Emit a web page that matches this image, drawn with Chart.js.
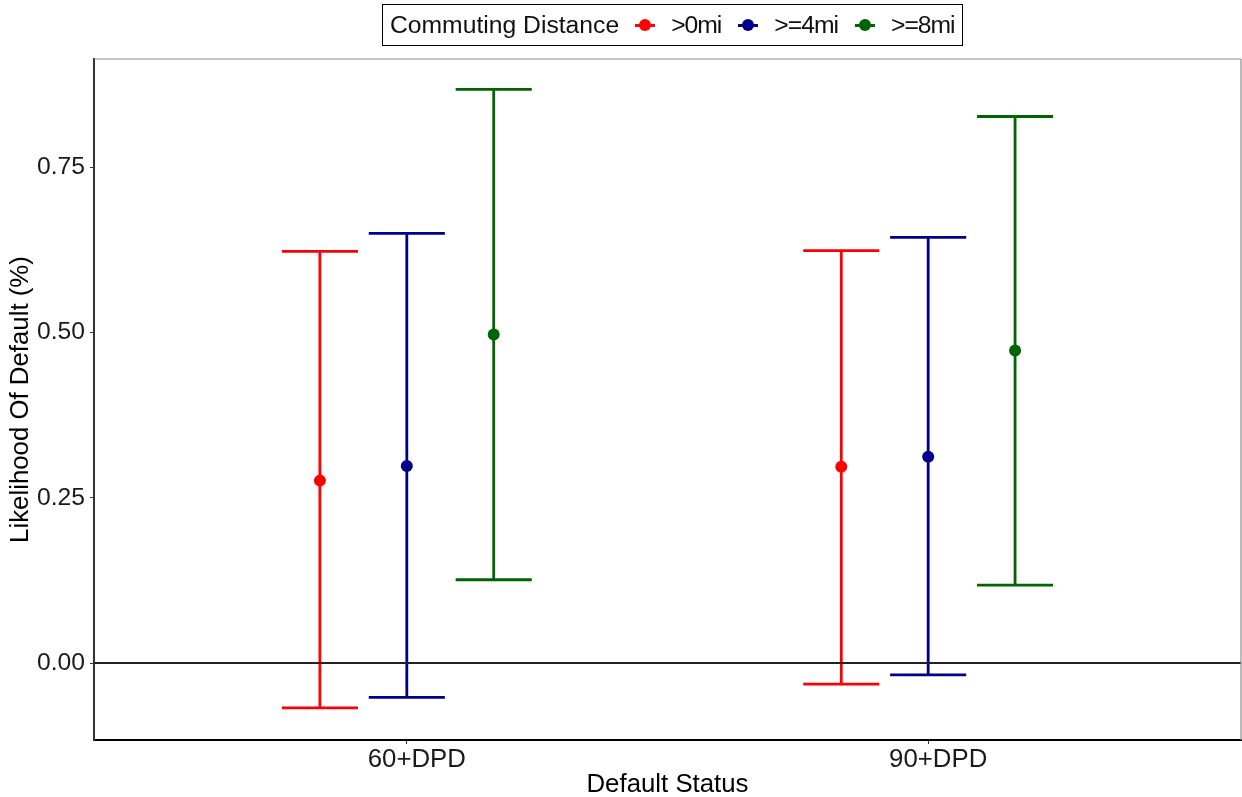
<!DOCTYPE html>
<html lang="en">
<head>
    <meta charset="UTF-8">
    <title>Likelihood Of Default by Commuting Distance</title>
    <style>
        body {
            margin: 0;
            background: #fff;
            font-family: "Liberation Sans", Arial, sans-serif;
        }
        .wrap {
            position: relative;
            width: 1242px;
            height: 797px;
        }
        .legend {
            position: absolute;
            top: 4px;
            left: 382px;
            height: 40px;
            border: 1px solid #000;
            display: flex;
            align-items: center;
            padding: 0 7px 0 7px;
            font-size: 24.7px;
            color: #111;
            white-space: nowrap;
        }
        .legend .ttl { margin-right: 16px; }
        .legend .key {
            position: relative;
            display: inline-block;
            width: 20px;
            height: 12px;
            margin-right: 16px;
        }
        .legend .key::before {
            content: "";
            position: absolute;
            left: 0; right: 0; top: 5px;
            height: 3px;
            background: var(--c);
        }
        .legend .key::after {
            content: "";
            position: absolute;
            left: 4px; top: 0;
            width: 12px; height: 12px;
            border-radius: 50%;
            background: var(--c);
        }
        .legend .lbl { margin-right: 17px; letter-spacing: -1px; }
        .legend .lbl:last-child { margin-right: 0; }
    </style>
</head>
<body>
<div class="wrap">
    <canvas id="chart" width="1242" height="797"></canvas>
    <div class="legend" id="legend"></div>
</div>

<script src="https://cdn.jsdelivr.net/npm/chart.js"></script>
<script>
    // data
    const categories = ['60+DPD', '90+DPD'];
    const seriesNames = ['>0mi', '>=4mi', '>=8mi'];
    const seriesColors = ['#ff0000', '#00008b', '#006400'];

    const est0 = [0.276, 0.297];
    const lo0 = [-0.068, -0.032];
    const hi0 = [0.623, 0.624];

    const est4 = [0.298, 0.312];
    const lo4 = [-0.052, -0.018];
    const hi4 = [0.650, 0.644];

    const est8 = [0.497, 0.473];
    const lo8 = [0.126, 0.118];
    const hi8 = [0.868, 0.827];

    const yTicks = [0, 0.25, 0.5, 0.75];

    const estimates = [est0, est4, est8];
    const lows = [lo0, lo4, lo8];
    const highs = [hi0, hi4, hi8];

    const dodge = 0.5 / 3;   // offset between groups
    const capHalf = 0.073;   // half width of the error bar caps (x units)

    const datasets = seriesNames.map((name, s) => ({
        label: name,
        data: categories.map((c, i) => ({
            x: i + 1 + (s - 1) * dodge,
            y: estimates[s][i],
            lo: lows[s][i],
            hi: highs[s][i]
        })),
        backgroundColor: seriesColors[s],
        borderColor: seriesColors[s],
        pointRadius: 6,
        pointHoverRadius: 6,
        borderWidth: 0
    }));

    // error bars, zero line and the grey panel edges
    const errorBars = {
        id: 'errorBars',
        beforeDatasetsDraw(chart) {
            const ctx = chart.ctx;
            const xs = chart.scales.x, ys = chart.scales.y;
            const a = chart.chartArea;
            ctx.save();
            ctx.lineCap = 'butt';
            chart.data.datasets.forEach(ds => {
                ctx.strokeStyle = ds.borderColor;
                ctx.lineWidth = 2.8;
                ds.data.forEach(d => {
                    const x = xs.getPixelForValue(d.x);
                    const x0 = xs.getPixelForValue(d.x - capHalf);
                    const x1 = xs.getPixelForValue(d.x + capHalf);
                    const yl = ys.getPixelForValue(d.lo);
                    const yh = ys.getPixelForValue(d.hi);
                    ctx.beginPath();
                    ctx.moveTo(x, yl); ctx.lineTo(x, yh);
                    ctx.moveTo(x0, yl); ctx.lineTo(x1, yl);
                    ctx.moveTo(x0, yh); ctx.lineTo(x1, yh);
                    ctx.stroke();
                });
            });
            // horizontal reference at zero
            const y0 = ys.getPixelForValue(0);
            ctx.strokeStyle = '#222';
            ctx.lineWidth = 1.8;
            ctx.beginPath();
            ctx.moveTo(a.left, y0); ctx.lineTo(a.right, y0);
            ctx.stroke();
            // light top / right edges
            ctx.strokeStyle = '#8c8c8c';
            ctx.lineWidth = 1.2;
            ctx.beginPath();
            ctx.moveTo(a.left, a.top); ctx.lineTo(a.right, a.top);
            ctx.moveTo(a.right, a.top); ctx.lineTo(a.right, a.bottom);
            ctx.stroke();
            ctx.restore();
        }
    };

    const tickFont = { family: '"Liberation Sans", Arial, sans-serif', size: 24.7 };
    const bigFont = { family: '"Liberation Sans", Arial, sans-serif', size: 25.8 };

    new Chart(document.getElementById('chart'), {
        type: 'scatter',
        data: { datasets },
        options: {
            responsive: false,
            animation: false,
            devicePixelRatio: 1,
            layout: { autoPadding: false, padding: { top: 59, right: 1, left: 0, bottom: 0 } },
            plugins: {
                legend: { display: false },
                tooltip: { enabled: false }
            },
            scales: {
                x: {
                    type: 'linear',
                    min: 0.4,
                    max: 2.6,
                    afterBuildTicks: scale => {
                        scale.ticks = categories.map((c, i) => ({ value: i + 1 }));
                    },
                    afterFit: scale => { scale.height = 57; },
                    ticks: {
                        callback: v => categories[Math.round(v) - 1],
                        font: bigFont,
                        color: '#1a1a1a',
                        padding: 0,
                        labelOffset: 10,
                        maxRotation: 0
                    },
                    grid: {
                        drawOnChartArea: false,
                        drawTicks: true,
                        tickLength: 4,
                        color: '#333'
                    },
                    border: { display: true, color: '#000', width: 2 },
                    title: {
                        display: true,
                        text: 'Default Status',
                        font: bigFont,
                        color: '#000',
                        padding: { top: 0, bottom: -3.5 }
                    }
                },
                y: {
                    min: -0.1165,
                    max: 0.914,
                    afterBuildTicks: scale => {
                        scale.ticks = yTicks.map(v => ({ value: v }));
                    },
                    afterFit: scale => { scale.width = 94; },
                    ticks: {
                        callback: v => v.toFixed(2),
                        font: tickFont,
                        color: '#1a1a1a',
                        padding: 5
                    },
                    grid: {
                        drawOnChartArea: false,
                        drawTicks: true,
                        tickLength: 4,
                        color: '#333'
                    },
                    border: { display: true, color: '#333', width: 2 },
                    title: {
                        display: true,
                        text: 'Likelihood Of Default (%)',
                        font: bigFont,
                        color: '#000',
                        padding: { top: 5, bottom: 0 }
                    }
                }
            }
        },
        plugins: [errorBars]
    });

    // legend as page text
    const legend = document.getElementById('legend');
    let html = '<span class="ttl">Commuting Distance</span>';
    seriesNames.forEach((n, s) => {
        html += '<span class="key" style="--c:' + seriesColors[s] + '"></span>' +
                '<span class="lbl">' + n.replace('>', '&gt;') + '</span>';
    });
    legend.innerHTML = html;
</script>
</body>
</html>
